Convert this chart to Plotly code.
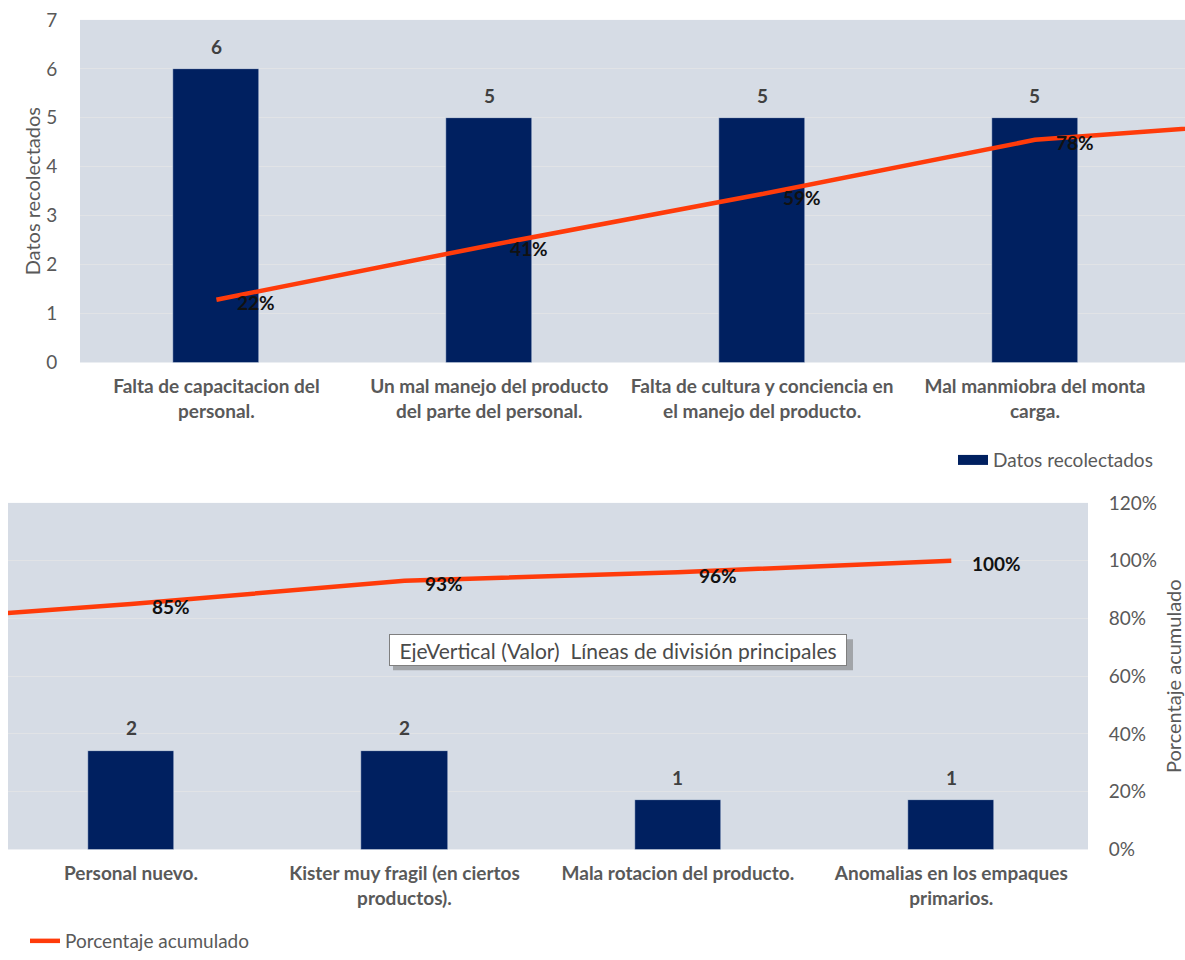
import plotly.graph_objects as go

categories = [
    "Falta de capacitacion del<br>personal.",
    "Un mal manejo del producto<br>del parte del personal.",
    "Falta de cultura y conciencia en<br>el manejo del producto.",
    "Mal manmiobra del monta<br>carga.",
    "Personal nuevo.",
    "Kister muy fragil (en ciertos<br>productos).",
    "Mala rotacion del producto.",
    "Anomalias en los empaques<br>primarios.",
]
datos = [6, 5, 5, 5, 2, 2, 1, 1]
acumulado = [22, 41, 59, 78, 85, 93, 96, 100]
pct_labels = ["22%", "41%", "59%", "78%", "85%", "93%", "96%", "100%"]
pct_ticks = [0, 20, 40, 60, 80, 100, 120]

FONT = "Lato"
GRAY = "#595959"
BAR = "#002060"
LINE = "#FF3B0A"
BG = "#D6DCE5"
GRID = "#E1E3E6"

xpos = list(range(len(categories)))
top_range = [-0.5, 3.55]
bot_range = [3.55, 7.5]

fig = go.Figure()

# top panel
fig.add_trace(go.Bar(x=xpos, y=datos, width=0.315, marker_color=BAR,
                     name="Datos recolectados", xaxis="x", yaxis="y",
                     showlegend=False))
fig.add_trace(go.Scatter(x=xpos, y=acumulado, mode="lines",
                         line=dict(color=LINE, width=4.5),
                         name="Porcentaje acumulado", xaxis="x", yaxis="y2",
                         showlegend=False))
# bottom panel
fig.add_trace(go.Bar(x=xpos, y=datos, width=0.315, marker_color=BAR,
                     name="Datos recolectados", xaxis="x2", yaxis="y3",
                     showlegend=False))
fig.add_trace(go.Scatter(x=xpos, y=acumulado, mode="lines",
                         line=dict(color=LINE, width=4.5),
                         name="Porcentaje acumulado", xaxis="x2", yaxis="y4",
                         legend="legend2", showlegend=True))
# legend entry for the bars (wide swatch like the original)
fig.add_trace(go.Scatter(x=[None], y=[None], mode="lines",
                         line=dict(color=BAR, width=11),
                         name="Datos recolectados", xaxis="x", yaxis="y",
                         legend="legend", showlegend=True))

annotations = []
for xv, yv, t in zip(xpos, acumulado, pct_labels):
    if top_range[0] <= xv <= top_range[1]:
        xr, yr = "x", "y2"
    else:
        xr, yr = "x2", "y4"
    annotations.append(dict(x=xv, y=yv, xref=xr, yref=yr, text=t, showarrow=False,
                            xanchor="left", yanchor="middle", xshift=19, yshift=-3,
                            font=dict(family=FONT, size=19, color="#111111", weight="bold")))
for xv, yv in zip(xpos, datos):
    if top_range[0] <= xv <= top_range[1]:
        xr, yr = "x", "y"
    else:
        xr, yr = "x2", "y3"
    annotations.append(dict(x=xv, y=yv, xref=xr, yref=yr, text=str(yv), showarrow=False,
                            xanchor="center", yanchor="bottom", yshift=9,
                            font=dict(family=FONT, size=19, color="#404040", weight="bold")))

annotations.append(dict(x=618 / 1185, y=(960 - 653) / 960, xref="paper", yref="paper",
                        text="EjeVertical (Valor)  Líneas de división principales",
                        showarrow=False, xanchor="center", yanchor="middle",
                        width=450, height=24,
                        bgcolor="white", bordercolor="#7F7F7F", borderwidth=1, borderpad=3,
                        font=dict(family=FONT, size=21, color="#4a4a4a")))

shapes = [dict(type="rect", xref="paper", yref="paper",
               x0=393 / 1185, x1=853 / 1185, y0=(960 - 673) / 960, y1=(960 - 642) / 960,
               fillcolor="rgba(120,120,120,0.55)", line=dict(width=0), layer="above")]

fig.update_layout(
    width=1185, height=960,
    margin=dict(l=0, r=0, t=0, b=0),
    paper_bgcolor="white",
    plot_bgcolor=BG,
    font=dict(family=FONT, color=GRAY),
    bargap=0,
    xaxis=dict(domain=[80 / 1185, 1], range=top_range, tickmode="array",
               tickvals=xpos, ticktext=categories, showgrid=False, zeroline=False,
               ticks="outside", ticklen=7, tickcolor="rgba(0,0,0,0)",
               tickfont=dict(family=FONT, size=19, color=GRAY, weight="bold"),
               automargin=False, anchor="y"),
    yaxis=dict(domain=[(960 - 364) / 960, (960 - 20) / 960], range=[0, 7], dtick=1,
               showgrid=True, gridcolor=GRID, gridwidth=1, zeroline=False,
               ticks="outside", ticklen=18, tickcolor="rgba(0,0,0,0)",
               tickfont=dict(family=FONT, size=19, color=GRAY),
               title=dict(text="Datos recolectados", font=dict(family=FONT, size=20, color=GRAY),
                          standoff=0),
               automargin=False, anchor="x"),
    yaxis2=dict(overlaying="y", side="right", range=[0, 120], visible=False,
                automargin=False, anchor="x"),
    xaxis2=dict(domain=[8 / 1185, 1088 / 1185], range=bot_range, tickmode="array",
                tickvals=xpos, ticktext=categories, showgrid=False, zeroline=False,
                ticks="outside", ticklen=7, tickcolor="rgba(0,0,0,0)",
                tickfont=dict(family=FONT, size=19, color=GRAY, weight="bold"),
                automargin=False, anchor="y3"),
    yaxis3=dict(domain=[(960 - 853) / 960, (960 - 505) / 960], range=[0, 7],
                visible=False, showgrid=False, automargin=False, anchor="x2"),
    yaxis4=dict(overlaying="y3", side="right", range=[0, 120], tickmode="array",
                tickvals=pct_ticks, ticktext=[f"{v}%" for v in pct_ticks],
                showgrid=True, gridcolor=GRID, zeroline=False,
                ticks="outside", ticklen=16, tickcolor="rgba(0,0,0,0)",
                tickfont=dict(family=FONT, size=19, color=GRAY),
                title=dict(text="Porcentaje acumulado", font=dict(family=FONT, size=20, color=GRAY),
                           standoff=16),
                automargin=False, anchor="x2"),
    legend=dict(x=953 / 1185, y=(960 - 462) / 960, xanchor="left", yanchor="middle",
                bgcolor="rgba(0,0,0,0)", font=dict(family=FONT, size=19, color=GRAY),
                orientation="h"),
    legend2=dict(x=25 / 1185, y=(960 - 945) / 960, xanchor="left", yanchor="middle",
                 bgcolor="rgba(0,0,0,0)", font=dict(family=FONT, size=19, color=GRAY),
                 orientation="h"),
    annotations=annotations,
    shapes=shapes,
)

fig.write_html("out.html")
